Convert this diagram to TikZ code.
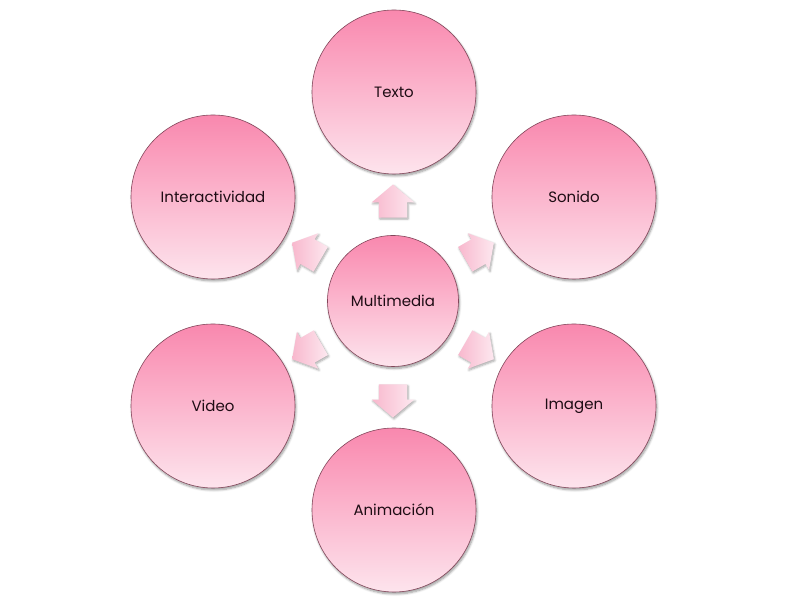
\documentclass[tikz,border=0pt]{standalone}
\usepackage{fontspec}
\setmainfont{Poppins}
\usetikzlibrary{shapes.arrows,shadows.blur}

\definecolor{rosedark}{RGB}{249,136,174}
\definecolor{roselight}{RGB}{253,228,237}
\definecolor{roseline}{RGB}{130,70,90}
\definecolor{arrowdark}{RGB}{248,184,205}
\definecolor{arrowlight}{RGB}{253,232,240}
\definecolor{labeltext}{RGB}{30,12,20}

\tikzset{
  topic/.style={circle, draw=roseline, line width=0.6pt, minimum size=164pt,
    inner sep=0pt, top color=rosedark, bottom color=roselight,
    text=labeltext, font=\fontsize{15}{17}\selectfont,
    blur shadow={shadow xshift=1pt, shadow yshift=-2pt, shadow blur steps=6, shadow opacity=40}},
  hub/.style={topic, minimum size=131pt},
  blockarrow/.style={single arrow, draw=none, minimum height=33pt,
    inner xsep=0pt, inner ysep=14pt,
    single arrow head extend=7pt, single arrow tip angle=100,
    left color=arrowdark, right color=arrowlight,
    blur shadow={shadow xshift=1pt, shadow yshift=-1.5pt, shadow blur steps=5, shadow opacity=35}}
}

\begin{document}
\begin{tikzpicture}[x=1pt, y=1pt]
	\useasboundingbox (0, 0) rectangle (788, 599);

	\node[hub] (multi) at (393, 298) {Multimedia};

	\node[topic] (texto) at (394, 507) {Texto};
	\node[topic] (sonido) at (574, 402) {Sonido};
	\node[topic] (imagen) at (574, 193) {Imagen};
	\node[topic] (animacion) at (394, 89) {Animación};
	\node[topic] (video) at (213, 193) {Video};
	\node[topic] (interact) at (213, 402) {Interactividad};

	% arrows from the hub out to each topic
	\foreach \a in {90, 30, -30, -90, -150, 150}
		\node[blockarrow, rotate=\a] (arr\a) at ([shift={(\a:94)}]multi.center) {};
\end{tikzpicture}
\end{document}
